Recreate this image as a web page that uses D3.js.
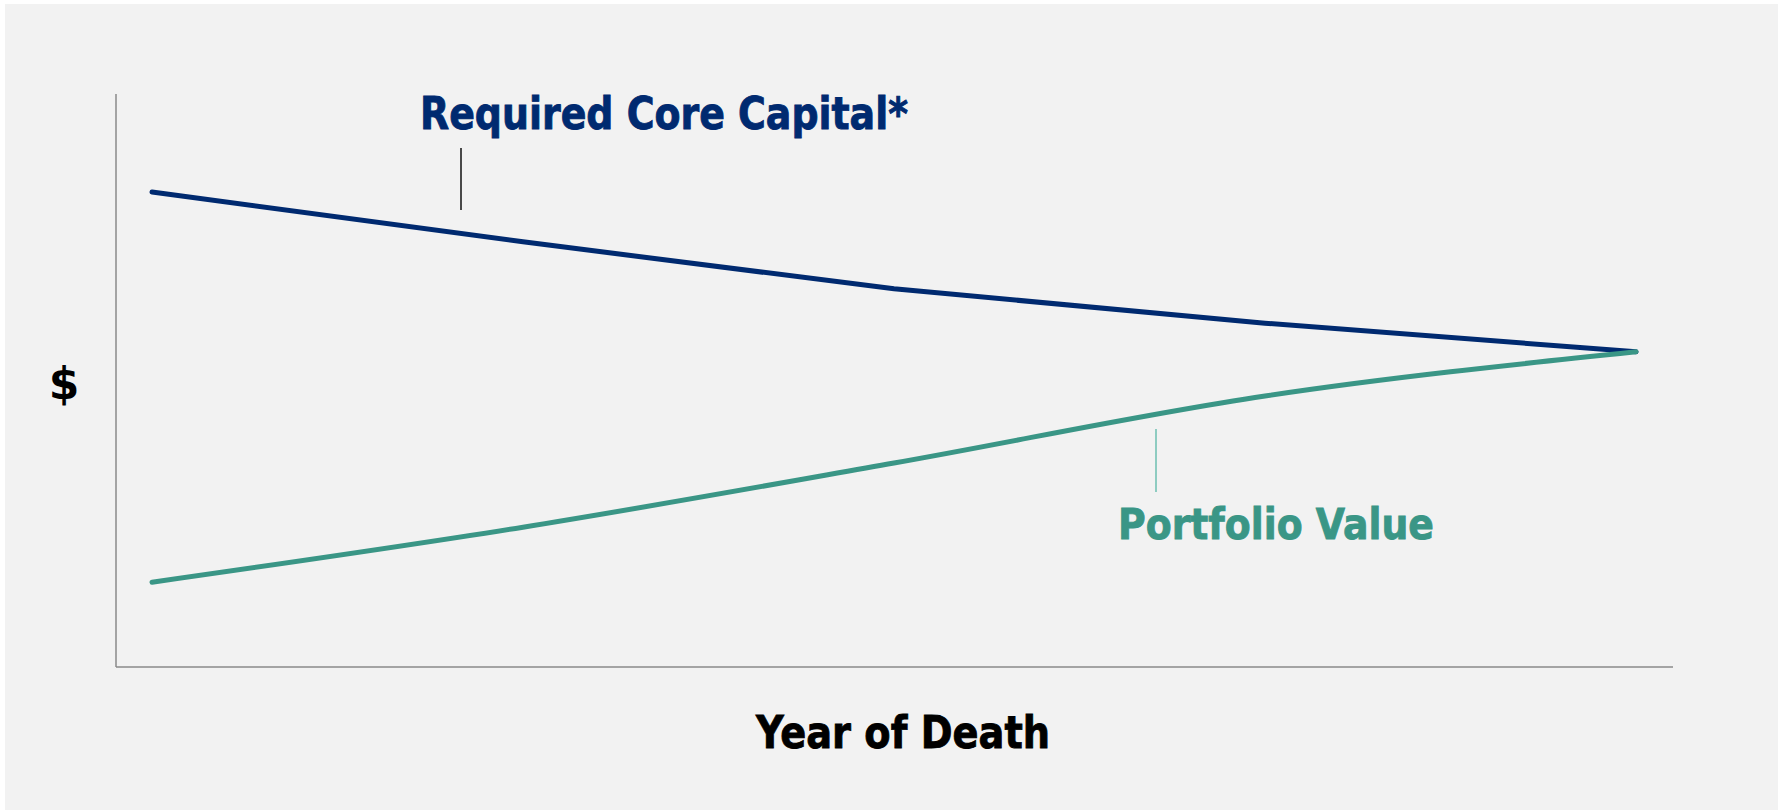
<!DOCTYPE html>
<html>
<head>
<meta charset="utf-8">
<script src="https://cdn.jsdelivr.net/npm/d3@7"></script>
<style>
  body { margin: 0; background: #fff; }
  text { font-family: "DejaVu Sans", Verdana, sans-serif; font-weight: bold; }
</style>
</head>
<body>
<svg width="1785" height="810"></svg>
<script>
// year-of-death steps (no tick labels on the chart)
var years = [0, 1, 2, 3, 4];
// relative dollar values
var requiredCapital = [82.9, 74.2, 66.0, 60.0, 55.0];
var portfolioValue = [14.8, 24.4, 35.6, 47.3, 55.0];

var svg = d3.select("svg"),
  width = +svg.attr("width"),
  height = +svg.attr("height");

// grey panel
svg.append("rect")
  .attr("x", 5).attr("y", 4)
  .attr("width", 1773).attr("height", 806)
  .attr("fill", "#f2f2f2");

var axisLeft = 116, axisBottom = 667, axisTop = 94, axisRight = 1673;

var x = d3.scaleLinear().domain([0, 4]).range([152, 1636]),
  y = d3.scaleLinear().domain([0, 100]).range([axisBottom, axisTop]);

// axes: just the frame, no ticks
svg.append("line")
  .attr("x1", axisLeft).attr("x2", axisLeft)
  .attr("y1", axisTop).attr("y2", axisBottom)
  .attr("stroke", "#8a8a8a").attr("stroke-width", 1.5);
svg.append("line")
  .attr("x1", axisLeft).attr("x2", axisRight)
  .attr("y1", axisBottom).attr("y2", axisBottom)
  .attr("stroke", "#8a8a8a").attr("stroke-width", 1.5);

var navyLine = d3.line()
  .x(function(d, i) { return x(years[i]); })
  .y(function(d) { return y(d); });

var tealLine = d3.line()
  .curve(d3.curveMonotoneX)
  .x(function(d, i) { return x(years[i]); })
  .y(function(d) { return y(d); });

svg.append("path")
  .attr("d", navyLine(requiredCapital))
  .attr("fill", "none")
  .attr("stroke", "#002a70")
  .attr("stroke-width", 5)
  .attr("stroke-linecap", "round")
  .attr("stroke-linejoin", "round");

svg.append("path")
  .attr("d", tealLine(portfolioValue))
  .attr("fill", "none")
  .attr("stroke", "#3a9686")
  .attr("stroke-width", 5)
  .attr("stroke-linecap", "round")
  .attr("stroke-linejoin", "round");

// callout ticks
svg.append("line")
  .attr("x1", 461).attr("x2", 461).attr("y1", 148).attr("y2", 210)
  .attr("stroke", "#111").attr("stroke-width", 1.5);
svg.append("line")
  .attr("x1", 1156).attr("x2", 1156).attr("y1", 429).attr("y2", 492)
  .attr("stroke", "#6cbfb1").attr("stroke-width", 1.5);

// labels (a thin stroke thickens the squeezed glyphs)
function label(txt, px, py, size, len, col) {
  svg.append("text")
    .attr("x", px).attr("y", py)
    .attr("font-size", size)
    .attr("textLength", len).attr("lengthAdjust", "spacingAndGlyphs")
    .attr("fill", col)
    .attr("stroke", col).attr("stroke-width", 0.9)
    .text(txt);
}
label("Required Core Capital*", 420, 129, 44, 488, "#002a70");
label("Portfolio Value", 1118, 539, 43, 316, "#3a9686");
label("Year of Death", 756, 748, 45, 294, "#000");

svg.append("text")
  .attr("x", 64).attr("y", 399)
  .attr("font-size", 44)
  .attr("text-anchor", "middle")
  .attr("fill", "#000")
  .text("$");
</script>
</body>
</html>
